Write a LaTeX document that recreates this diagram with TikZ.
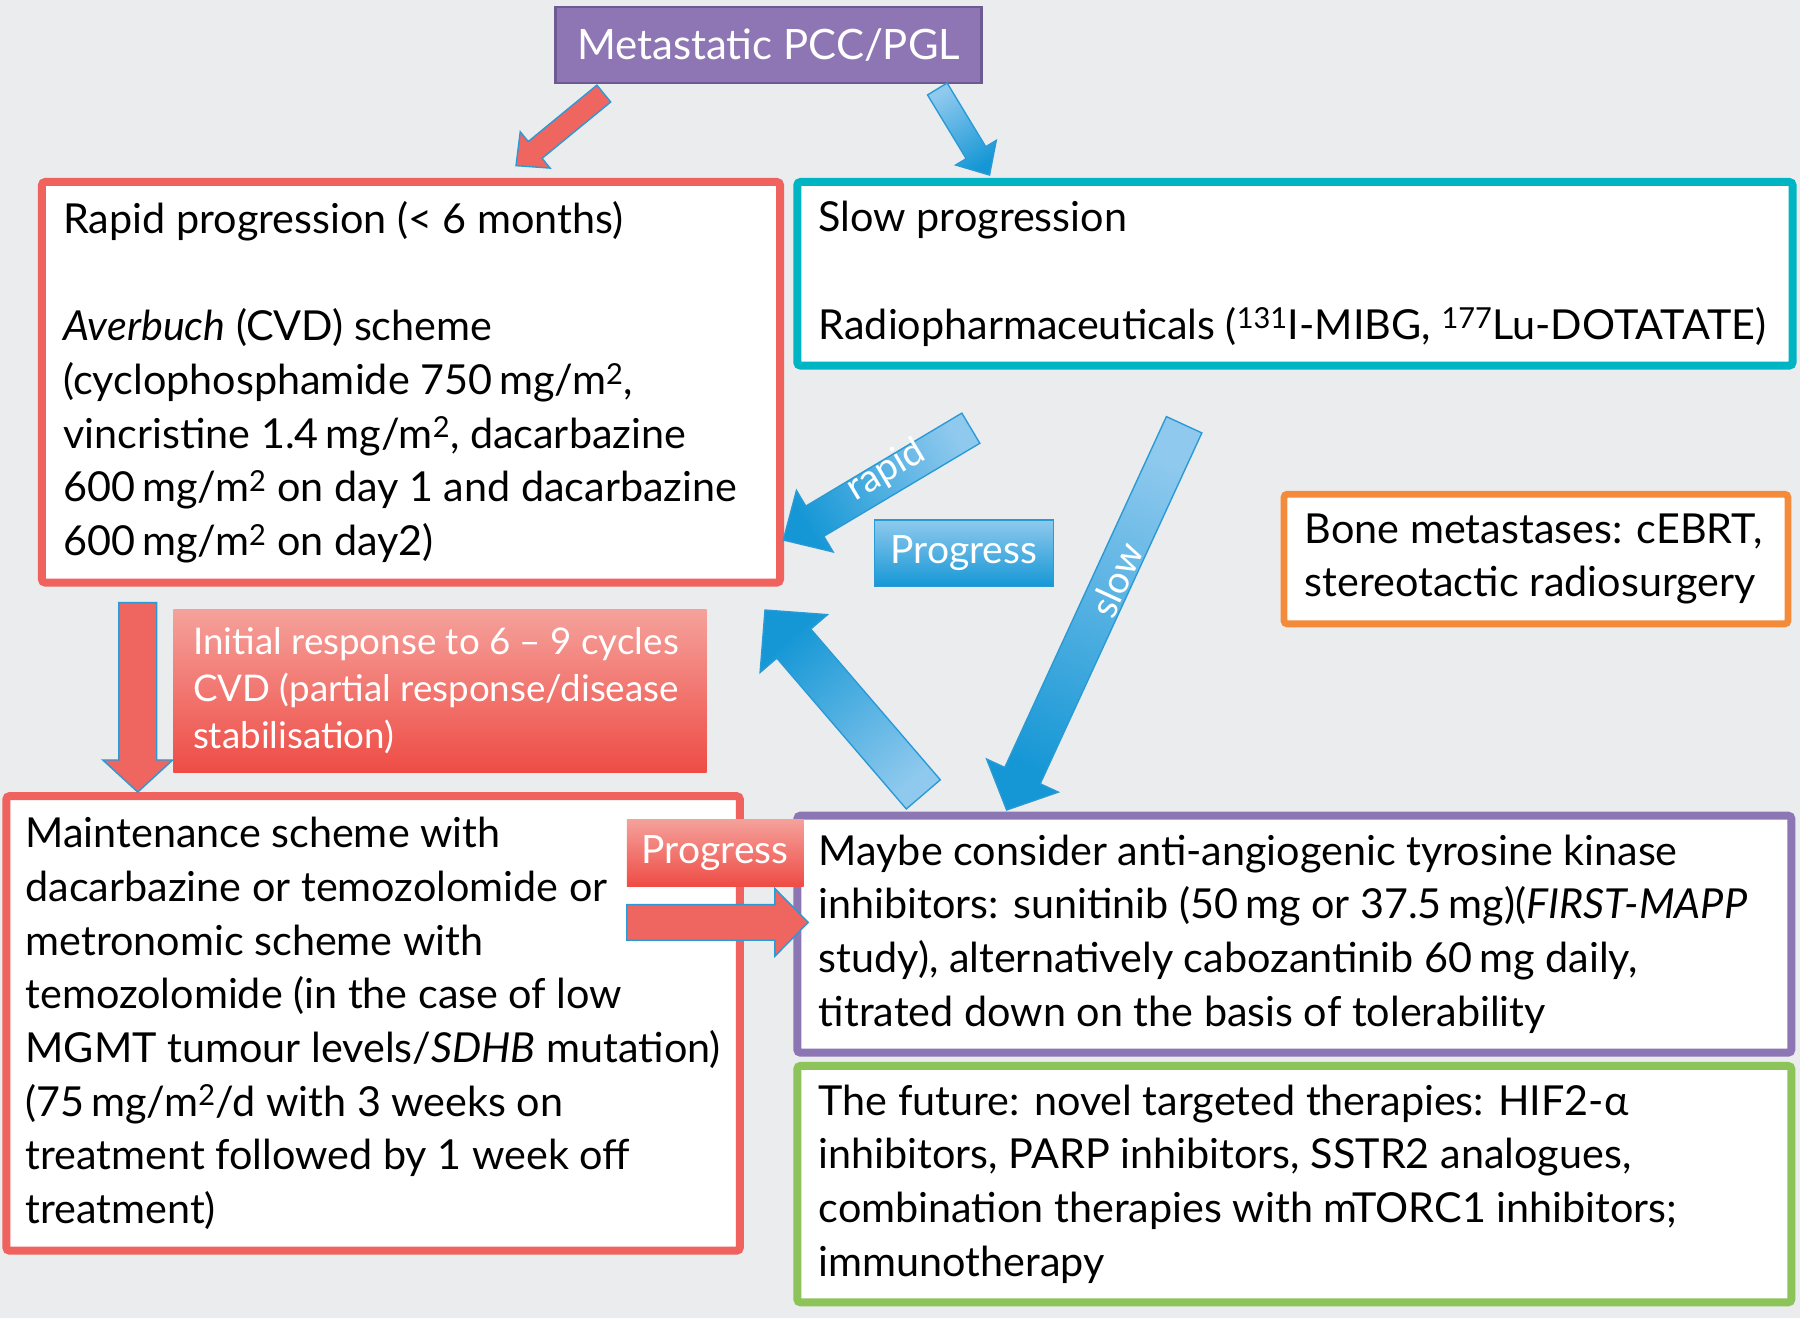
\documentclass[tikz,border=0pt]{standalone}
\usepackage{fontspec}
\setmainfont{Lato}
\usetikzlibrary{calc}
\definecolor{bg}{HTML}{EBECEE}
\definecolor{cred}{HTML}{EF625D}
\definecolor{cteal}{HTML}{00B5C3}
\definecolor{corange}{HTML}{F48B3B}
\definecolor{cpurple}{HTML}{8C76B4}
\definecolor{cgreen}{HTML}{8DC45A}
\definecolor{ctitle}{HTML}{8E75B4}
\definecolor{ctitleb}{HTML}{6C5A92}
\definecolor{bluelight}{HTML}{8FC9EE}
\definecolor{bluedark}{HTML}{1597D5}
\definecolor{blueline}{HTML}{2A9AD6}
\definecolor{redlight}{HTML}{F5A19B}
\definecolor{reddark}{HTML}{EE4C45}
\definecolor{redarrow}{HTML}{EF6560}
% block arrow: #1 tail, #2 tip, #3 shaft half width, #4 head half width, #5 head length, #6 style
\newcommand\barrow[6]{%
  \coordinate (#1-b) at ($(#2)!#5!(#1)$);
  \path[#6] ($(#1)!#3!90:(#2)$) -- ($(#1-b)!#3!90:(#2)$) -- ($(#1-b)!#4!90:(#2)$)
    -- (#2) -- ($(#1-b)!#4!-90:(#2)$) -- ($(#1-b)!#3!-90:(#2)$) -- ($(#1)!#3!-90:(#2)$) -- cycle;}
\begin{document}
\begin{tikzpicture}[x=1pt,y=-1pt,
  box/.style={draw, line width=7pt, fill=white, rounded corners=3pt, anchor=north west, inner sep=0pt, outer sep=0pt},
  txt/.style={anchor=west, align=left, inner sep=0pt, font=\fontsize{36}{46.8}\selectfont},
  bluearrow/.style={draw=blueline, line width=1.2pt, top color=bluelight, bottom color=bluedark},
  redarr/.style={draw=blueline, line width=1.2pt, fill=redarrow},
  redlabel/.style={top color=redlight, bottom color=reddark, text=white, anchor=north west, inner sep=0pt, outer sep=0pt},
  bluelabel/.style={draw=blueline, line width=1pt, top color=bluelight, bottom color=bluedark, text=white, anchor=north west, inner sep=0pt, outer sep=0pt},
  arrtext/.style={text=white, font=\fontsize{33}{38}\selectfont, inner sep=0pt}]
\useasboundingbox (0,0) rectangle (1568,1148);
\fill[bg] (0,0) rectangle (1568,1148);

% title
\node[draw=ctitleb, line width=2pt, fill=ctitle, text=white, anchor=north west, minimum width=371pt, minimum height=66pt, inner sep=0pt,
  font=\fontsize{36.5}{44}\selectfont] (title) at (483,5) {Metastatic PCC/PGL};

% boxes
\node[box, draw=cred, minimum width=643pt, minimum height=349pt] (rapid) at (36.5,158.5) {};
\node[box, draw=cteal, minimum width=867pt, minimum height=160pt] (slow) at (694.5,158.5) {};
\node[box, draw=corange, line width=6pt, minimum width=439pt, minimum height=113pt] (bone) at (1118.5,430.5) {};
\node[box, draw=cred, minimum width=639pt, minimum height=396pt] (maint) at (5.5,693.5) {};
\node[box, draw=cpurple, minimum width=866pt, minimum height=206.5pt] (maybe) at (694.5,710.5) {};
\node[box, draw=cgreen, minimum width=866pt, minimum height=206pt] (future) at (694.5,928.5) {};

% texts
\node[txt] (rapidT) at ([xshift=18.5pt]rapid.west) {Rapid progression (< 6 months)\\[46.8pt]
\textit{Averbuch} (CVD) scheme\\
(cyclophosphamide 750\,mg/m\textsuperscript{2},\\
vincristine 1.4\,mg/m\textsuperscript{2}, dacarbazine\\
600\,mg/m\textsuperscript{2} on day 1 and dacarbazine\\
600\,mg/m\textsuperscript{2} on day2)};
\node[txt] (slowT) at ([xshift=18.5pt]slow.west) {Slow progression\\[46.8pt]
Radiopharmaceuticals (\textsuperscript{131}I-MIBG, \textsuperscript{177}Lu-DOTATATE)};
\node[txt] (boneT) at ([xshift=18pt]bone.west) {Bone metastases: cEBRT,\\ stereotactic radiosurgery};
\node[txt] (maintT) at ([xshift=16.5pt]maint.west) {Maintenance scheme with\\
dacarbazine or temozolomide or\\
metronomic scheme with\\
temozolomide (in the case of low\\
MGMT tumour levels/\textit{SDHB} mutation)\\
(75\,mg/m\textsuperscript{2}/d with 3 weeks on\\
treatment followed by 1 week off\\
treatment)};
\node[txt] (maybeT) at ([xshift=18.5pt]maybe.west) {Maybe consider anti-angiogenic tyrosine kinase\\
inhibitors: sunitinib (50\,mg or 37.5\,mg)(\textit{FIRST-MAPP}\\
study), alternatively cabozantinib 60\,mg daily,\\
titrated down on the basis of tolerability};
\node[txt] (futureT) at ([xshift=18.5pt]future.west) {The future: novel targeted therapies: HIF2-α\\
inhibitors, PARP inhibitors, SSTR2 analogues,\\
combination therapies with mTORC1 inhibitors;\\
immunotherapy};

% labels
\node[redlabel, minimum width=464.5pt, minimum height=142pt] (init) at (151,531) {};
\node[anchor=west, align=left, inner sep=0pt, text=white, font=\fontsize{32}{41}\selectfont] (initT) at ([xshift=17pt]init.west)
  {Initial response to 6 – 9 cycles\\ CVD (partial response/disease\\ stabilisation)};
\node[bluelabel, minimum width=155.5pt, minimum height=58pt, font=\fontsize{34}{40}\selectfont] (progB) at (762,453) {Progress};

% arrows
\coordinate (a1t) at (526,81.5);   \coordinate (a1h) at (449.5,144.3);
\coordinate (a2t) at (816.5,77.5); \coordinate (a2h) at (862,152.5);
\coordinate (a3t) at (845.7,373);  \coordinate (a3h) at (682.3,470.4);
\coordinate (a4t) at (1031.5,370); \coordinate (a4h) at (876.9,705.6);
\coordinate (a5t) at (804.3,692);  \coordinate (a5h) at (666.4,531.4);
\coordinate (a6t) at (120,525);    \coordinate (a6h) at (120,690);
\coordinate (a7t) at (546,803.5);  \coordinate (a7h) at (704,803.5);

\barrow{a1t}{a1h}{9.5pt}{20.5pt}{21.6pt}{redarr}
\barrow{a2t}{a2h}{10pt}{20.7pt}{22.8pt}{bluearrow, shading angle=31.2}
\barrow{a3t}{a3h}{15.3pt}{31.2pt}{32pt}{bluearrow, shading angle=-59.2}
\barrow{a4t}{a4h}{17pt}{34.4pt}{33pt}{bluearrow, shading angle=-24.7}
\barrow{a5t}{a5h}{19.5pt}{38.7pt}{38.5pt}{bluearrow, shading angle=-139.4}
\barrow{a6t}{a6h}{16.5pt}{30.5pt}{28pt}{redarr}
\barrow{a7t}{a7h}{15.5pt}{29.5pt}{29pt}{redarr}

\node[arrtext, rotate=30.8] (rapidL) at (772,410) {rapid};
\node[arrtext, rotate=65.3] (slowL) at (972.5,505) {slow};

\node[redlabel, minimum width=154pt, minimum height=58pt, font=\fontsize{34}{40}\selectfont] (progR) at (546,714) {Progress};
\end{tikzpicture}
\end{document}
